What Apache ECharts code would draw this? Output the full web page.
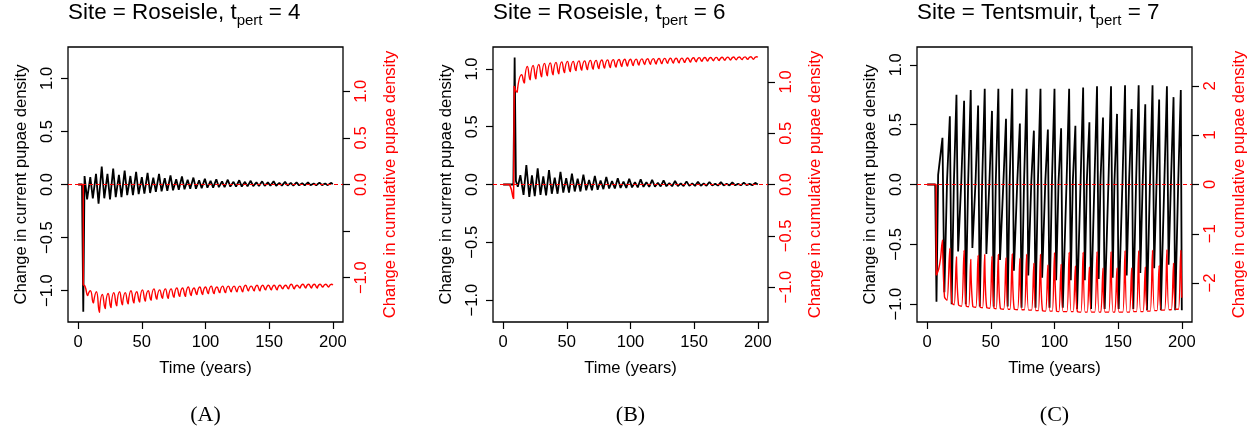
<!DOCTYPE html>
<html>
<head>
<meta charset="utf-8">
<script src="https://cdn.jsdelivr.net/npm/echarts@6/dist/echarts.min.js"></script>
<style>
  html, body { margin: 0; padding: 0; background: #fff; }
  #chart { width: 1252px; height: 432px; }
</style>
</head>
<body>
<div id="chart"></div>
<script>
// ---- Panel titles and tick values ----
const panelSites = ['Roseisle', 'Roseisle', 'Tentsmuir'];
const panelTpert = [4, 6, 7];
const panelTags = ['(A)', '(B)', '(C)'];
const xTicks = [0, 50, 100, 150, 200];
const currentTicks = [-1, -0.5, 0, 0.5, 1];
const cumTicksAB = [-1, -0.5, 0, 0.5, 1];
const cumTicksC = [-2, -1, 0, 1, 2];

// ---- (A) Roseisle, t_pert = 4 : [time, change] ----
const roseisle4Current = [
  [0,0],[3,0],[4,-1.2],[5,0.08],[7,-0.14],[9.5,0.07],[11.5,-0.13],[14,0.10],[16,-0.18],[18.5,0.17],
  [20.5,-0.13],[23,0.10],[25,-0.14],[27.5,0.15],[29.5,-0.12],[32,0.09],[34,-0.12],[36.5,0.13],[38.5,-0.10],[41,0.08],
  [43,-0.10],[45.5,0.12],[47.5,-0.09],[50,0.07],[52,-0.085],[54.5,0.11],[56.5,-0.08],[59,0.065],[61,-0.07],[63.5,0.10],
  [65.5,-0.065],[68,0.06],[70,-0.06],[72.5,0.085],[74.5,-0.055],[77,0.05],[79,-0.05],[81.5,0.075],[83.5,-0.045],[86,0.045],
  [88,-0.04],[90.5,0.065],[92.5,-0.04],[95,0.04],[97,-0.035],[99.5,0.055],[101.5,-0.03],[104,0.035],[106,-0.03],[108.5,0.05],
  [110.5,-0.025],[113,0.03],[115,-0.025],[117.5,0.045],[119.5,-0.02],[122,0.025],[124,-0.02],[126.5,0.04],[128.5,-0.02],[131,0.025],
  [133,-0.018],[135.5,0.035],[137.5,-0.015],[140,0.02],[142,-0.015],[144.5,0.03],[146.5,-0.013],[149,0.02],[151,-0.012],[153.5,0.03],
  [155.5,-0.012],[158,0.015],[160,-0.01],[162.5,0.025],[164.5,-0.01],[167,0.015],[169,-0.01],[171.5,0.02],[173.5,-0.008],[176,0.012],
  [178,-0.008],[180.5,0.02],[182.5,-0.007],[185,0.01],[187,-0.007],[189.5,0.018],[191.5,-0.006],[194,0.01],[196,-0.006],[198.5,0.015],[200,0.005]
];
const roseisle4CumStep = [[0,0],[4,0],[4,-1.08]];
const roseisle4Cum = [
  [4,-1.08],[5.3,-1.09],[7.5,-1.19],[9.5,-1.14],[12,-1.27],[14.3,-1.15],[16.7,-1.37],[19,-1.18],[21.3,-1.33],[23.5,-1.17],
  [25.8,-1.32],[28,-1.16],[30.3,-1.30],[32.5,-1.15],[34.8,-1.29],[37,-1.16],[39.3,-1.28],[41.5,-1.14],[43.8,-1.27],[46,-1.15],
  [48.3,-1.26],[50.5,-1.13],[52.8,-1.25],[55,-1.14],[57.3,-1.24],[59.5,-1.12],[61.8,-1.23],[64,-1.13],[66.3,-1.22],[68.5,-1.12],
  [70.8,-1.22],[73,-1.12],[75.3,-1.21],[77.5,-1.11],[79.8,-1.20],[82,-1.11],[84.3,-1.20],[86.5,-1.10],[88.8,-1.19],[91,-1.11],
  [93.3,-1.18],[95.5,-1.10],[97.8,-1.18],[100,-1.10],[102.3,-1.17],[104.5,-1.09],[106.8,-1.17],[109,-1.10],[111.3,-1.16],[113.5,-1.09],
  [115.8,-1.16],[118,-1.09],[120.3,-1.15],[122.5,-1.09],[124.8,-1.15],[127,-1.09],[129.3,-1.15],[131.5,-1.08],[133.8,-1.14],[136,-1.09],
  [138.3,-1.14],[140.5,-1.08],[142.8,-1.14],[145,-1.08],[147.3,-1.13],[149.5,-1.08],[151.8,-1.13],[154,-1.08],[156.3,-1.13],[158.5,-1.08],
  [160.8,-1.12],[163,-1.08],[165.3,-1.12],[167.5,-1.07],[169.8,-1.12],[172,-1.08],[174.3,-1.11],[176.5,-1.07],[178.8,-1.11],[181,-1.07],
  [183.3,-1.11],[185.5,-1.07],[187.8,-1.11],[190,-1.07],[192.3,-1.10],[194.5,-1.07],[196.8,-1.10],[199,-1.07],[200,-1.08]
];

// ---- (B) Roseisle, t_pert = 6 ----
const roseisle6Current = [
  [0,0],[8,0],[9,1.1],[10,0.03],[11.5,-0.02],[13.5,0.08],[16,-0.09],[18.2,0.167],[20.5,-0.107],[22.6,0.08],
  [24.8,-0.10],[27.1,0.139],[29.3,-0.09],[31.5,0.07],[33.7,-0.095],[36,0.124],[38.2,-0.08],[40.5,0.06],[42.7,-0.08],[45,0.11],
  [47.2,-0.07],[49.5,0.055],[51.7,-0.07],[54,0.095],[56.2,-0.06],[58.5,0.05],[60.7,-0.06],[63,0.085],[65.2,-0.05],[67.5,0.04],
  [69.7,-0.05],[72,0.075],[74.2,-0.045],[76.5,0.035],[78.7,-0.04],[81,0.065],[83.2,-0.035],[85.5,0.03],[87.7,-0.035],[90,0.055],
  [92.2,-0.03],[94.5,0.025],[96.7,-0.03],[99,0.05],[101.2,-0.025],[103.5,0.02],[105.7,-0.025],[108,0.045],[110.2,-0.02],[112.5,0.02],
  [114.7,-0.02],[117,0.04],[119.2,-0.018],[121.5,0.015],[123.7,-0.017],[126,0.035],[128.2,-0.015],[130.5,0.012],[132.7,-0.015],[135,0.03],
  [137.2,-0.013],[139.5,0.01],[141.7,-0.013],[144,0.027],[146.2,-0.012],[148.5,0.01],[150.7,-0.012],[153,0.024],[155.2,-0.01],[157.5,0.008],
  [159.7,-0.01],[162,0.022],[164.2,-0.009],[166.5,0.007],[168.7,-0.009],[171,0.02],[173.2,-0.008],[175.5,0.006],[177.7,-0.008],[180,0.018],
  [182.2,-0.007],[184.5,0.005],[186.7,-0.007],[189,0.016],[191.2,-0.006],[193.5,0.005],[195.7,-0.006],[198,0.014],[200,0]
];
const roseisle6CumStep = [[0,0],[5,0],[6.5,-0.05],[7.6,-0.12],[8.2,-0.14],[8.7,0.96]];
const roseisle6Cum = [
  [8.7,0.96],[11,0.90],[14.5,1.07],[16.7,0.99],[19,1.15],[21.2,1.02],[23.5,1.16],[25.7,1.03],[28,1.17],[30.2,1.05],
  [32.5,1.18],[34.7,1.06],[37,1.185],[39.2,1.07],[41.5,1.19],[43.7,1.08],[46,1.195],[48.2,1.09],[50.5,1.2],[52.7,1.10],
  [55,1.2],[57.2,1.11],[59.5,1.205],[61.7,1.115],[64,1.205],[66.2,1.12],[68.5,1.21],[70.7,1.125],[73,1.21],[75.2,1.13],
  [77.5,1.213],[79.7,1.135],[82,1.215],[84.2,1.14],[86.5,1.217],[88.7,1.145],[91,1.218],[93.2,1.15],[95.5,1.22],[97.7,1.155],
  [100,1.22],[102.2,1.16],[104.5,1.222],[106.7,1.165],[109,1.224],[111.2,1.17],[113.5,1.226],[115.7,1.172],[118,1.227],[120.2,1.175],
  [122.5,1.228],[124.7,1.178],[127,1.229],[129.2,1.18],[131.5,1.23],[133.7,1.183],[136,1.231],[138.2,1.186],[140.5,1.232],[142.7,1.19],
  [145,1.233],[147.2,1.193],[149.5,1.235],[151.7,1.196],[154,1.236],[156.2,1.2],[158.5,1.237],[160.7,1.203],[163,1.238],[165.2,1.206],
  [167.5,1.239],[169.7,1.208],[172,1.24],[174.2,1.21],[176.5,1.241],[178.7,1.213],[181,1.242],[183.2,1.215],[185.5,1.243],[187.7,1.217],
  [190,1.244],[192.2,1.219],[194.5,1.245],[196.7,1.22],[199,1.245],[200,1.24]
];

// ---- (C) Tentsmuir, t_pert = 7 ----
const tentsmuir7Current = [
  [0,0],[6.3,0],[7.3,-0.98],[8.6,0.08],[9.9,0.09],[12,0.39],[13.5,-0.9],[15.6,0.03],[17.8,0.57],[19.2,-1.0],
  [21,0.03],[23,0.75],[24.3,-0.56],[26.8,0.03],[29,0.70],[30.3,-1.0],[32.2,0.03],[34.2,0.79],[35.5,-0.53],[38,0.03],
  [40,0.66],[41.3,-1.02],[43.2,0.03],[45.2,0.80],[46.5,-0.58],[48.9,0.03],[50.9,0.615],[52.2,-1.02],[53.9,0.03],[55.9,0.80],
  [57.2,-0.63],[59.9,0.03],[61.9,0.55],[63.2,-1.02],[64.8,0.03],[66.8,0.80],[68.1,-0.72],[70.8,0.03],[72.8,0.51],[74.1,-1.03],
  [76.1,0.03],[78.1,0.80],[79.4,-0.76],[81.8,0.03],[83.8,0.45],[85.1,-1.03],[87,0.03],[89,0.80],[90.3,-0.78],[92.8,0.03],
  [94.8,0.46],[96.1,-1.03],[98,0.03],[100,0.80],[101.3,-0.8],[103.2,0.03],[105.2,0.47],[106.5,-1.03],[109.5,0.03],[111.5,0.80],
  [112.8,-0.8],[114.4,0.03],[116.4,0.49],[117.7,-1.04],[120.5,0.03],[122.5,0.81],[123.8,-0.8],[125.4,0.03],[127.4,0.52],[128.7,-1.04],
  [131.4,0.03],[133.4,0.82],[134.7,-0.79],[136.1,0.03],[138.1,0.56],[139.4,-1.04],[142.4,0.03],[144.4,0.82],[145.7,-0.78],[147.1,0.03],
  [149.1,0.59],[150.4,-1.04],[153.4,0.03],[155.4,0.83],[156.7,-0.76],[158.6,0.03],[160.6,0.63],[161.9,-1.04],[164.1,0.03],[166.1,0.83],
  [167.4,-0.74],[169.3,0.03],[171.3,0.67],[172.6,-1.05],[175,0.03],[177,0.83],[178.3,-0.70],[180.2,0.03],[182.2,0.71],[183.5,-1.05],
  [186.3,0.03],[188.3,0.82],[189.6,-0.67],[191.5,0.03],[193.5,0.73],[194.8,-1.05],[197.2,0.03],[199.2,0.79],[200,-1.05]
];
const tentsmuir7CumStep = [[0,0],[7,0],[7.2,-1.84]];
const tentsmuir7Cum = [
  [7.2,-1.84],[9,-1.72],[10.5,-1.5],[12,-1.13],
  [13.6,-2.28],[15.6,-2.35],[17.8,-1.30],[19.4,-2.40],[21.2,-2.44],[23,-1.47],
  [24.6,-2.44],[27,-2.47],[29,-1.34],[30.6,-2.46],[32.6,-2.48],[34.2,-1.52],
  [35.8,-2.47],[38.2,-2.49],[40,-1.44],[41.6,-2.49],[43.5,-2.5],[45.2,-1.42],
  [46.8,-2.5],[49.2,-2.51],[50.9,-1.46],[52.5,-2.51],[54.2,-2.52],[55.9,-1.42],
  [57.5,-2.52],[60.1,-2.53],[61.9,-1.49],[63.5,-2.53],[65.1,-2.53],[66.8,-1.41],
  [68.4,-2.53],[71,-2.54],[72.8,-1.50],[74.4,-2.54],[76.4,-2.54],[78.1,-1.42],
  [79.7,-2.55],[82,-2.55],[83.8,-1.60],[85.4,-2.56],[87.3,-2.56],[89,-1.42],
  [90.6,-2.56],[93,-2.57],[94.8,-1.64],[96.4,-2.57],[98.3,-2.57],[100,-1.39],
  [101.6,-2.57],[103.4,-2.58],[105.2,-1.62],[106.8,-2.58],[109.7,-2.58],[111.5,-1.38],
  [113.1,-2.58],[114.7,-2.58],[116.4,-1.66],[118,-2.58],[120.7,-2.59],[122.5,-1.38],
  [124.1,-2.59],[125.7,-2.59],[127.4,-1.68],[129,-2.59],[131.6,-2.59],[133.4,-1.37],
  [135,-2.59],[136.4,-2.59],[138.1,-1.70],[139.7,-2.59],[142.6,-2.59],[144.4,-1.37],
  [146,-2.59],[147.4,-2.59],[149.1,-1.70],[150.7,-2.59],[153.6,-2.59],[155.4,-1.35],
  [157,-2.59],[158.9,-2.59],[160.6,-1.70],[162.2,-2.58],[164.4,-2.58],[166.1,-1.35],
  [167.7,-2.58],[169.6,-2.58],[171.3,-1.68],[172.9,-2.57],[175.2,-2.57],[177,-1.34],
  [178.6,-2.56],[180.5,-2.56],[182.2,-1.65],[183.8,-2.55],[186.5,-2.55],[188.3,-1.33],
  [189.9,-2.54],[191.8,-2.54],[193.5,-1.60],[195.1,-2.53],[197.4,-2.53],[199.2,-1.34],[200,-2.3]
];

// ---- layout ----
const FONT = '"Liberation Sans", Arial, Helvetica, sans-serif';
const RED = '#ff0000';
const boxLeft = [68, 493, 917];
const boxTop = 47, boxSize = 275;
const xRange = [-8, 208];
const currentRange = [1.296, 1.19, 1.149];
const cumRange = [1.475, 1.34, 2.79];
const currentData = [roseisle4Current, roseisle6Current, tentsmuir7Current];
const cumStepData = [roseisle4CumStep, roseisle6CumStep, tentsmuir7CumStep];
const cumData = [roseisle4Cum, roseisle6Cum, tentsmuir7Cum];
const cumTicks = [cumTicksAB, cumTicksAB, cumTicksC];

const fmtDec = v => (v < 0 ? '\u2212' : '') + Math.abs(v).toFixed(1);
const fmtInt = v => (v < 0 ? '\u2212' : '') + Math.abs(v).toFixed(0);

// The smoothed cumulative curves have sharp turning points (troughs for A/B,
// crests for C). Each such vertex gets a twin a hair later so that the spline
// meets it along the straight chords instead of rounding it off.
function withSharpTurns(points, atMinima) {
  const out = [];
  points.forEach((pt, i) => {
    out.push(pt);
    const prev = points[i - 1], next = points[i + 1];
    if (!prev || !next) return;
    const isTurn = atMinima ? (pt[1] < prev[1] && pt[1] < next[1]) : (pt[1] > prev[1] && pt[1] > next[1]);
    if (isTurn) out.push([pt[0] + 0.01, pt[1]]);
  });
  return out;
}

const grids = [], xAxes = [], yAxes = [], series = [], titles = [], graphics = [];

for (let p = 0; p < 3; p++) {
  grids.push({
    left: boxLeft[p], top: boxTop, width: boxSize, height: boxSize,
    show: true, borderColor: '#000', borderWidth: 1.3, backgroundColor: 'transparent'
  });
  xAxes.push({
    type: 'value', gridIndex: p, min: xRange[0], max: xRange[1],
    name: 'Time (years)', nameLocation: 'middle', nameGap: 38,
    nameTextStyle: { fontFamily: FONT, fontSize: 16.6, color: '#000' },
    axisLine: { show: false, onZero: false },
    axisTick: { show: true, inside: false, length: 7, customValues: xTicks, lineStyle: { color: '#000', width: 1.2 } },
    axisLabel: { customValues: xTicks, margin: 12, fontFamily: FONT, fontSize: 16.6, color: '#000' },
    splitLine: { show: false }
  });
  yAxes.push({
    type: 'value', gridIndex: p, position: 'left',
    min: -currentRange[p], max: currentRange[p],
    name: 'Change in current pupae density', nameLocation: 'middle', nameGap: 38, nameRotate: 90,
    nameTextStyle: { fontFamily: FONT, fontSize: 16.6, color: '#000' },
    axisLine: { show: false, onZero: false },
    axisTick: { show: true, length: 7, customValues: currentTicks, lineStyle: { color: '#000', width: 1.2 } },
    axisLabel: { customValues: currentTicks, rotate: 90, margin: 12, fontFamily: FONT, fontSize: 16.6, color: '#000', formatter: fmtDec },
    splitLine: { show: false }
  });
  yAxes.push({
    type: 'value', gridIndex: p, position: 'right',
    min: -cumRange[p], max: cumRange[p],
    name: 'Change in cumulative pupae density', nameLocation: 'middle', nameGap: 39, nameRotate: 90,
    nameTextStyle: { fontFamily: FONT, fontSize: 16.6, color: RED },
    axisLine: { show: false, onZero: false },
    axisTick: { show: true, length: 7, customValues: cumTicks[p], lineStyle: { color: '#000', width: 1.2 } },
    axisLabel: {
      customValues: cumTicks[p], rotate: 90, margin: 10, fontFamily: FONT, fontSize: 16.6, color: RED,
      // the -0.5 label on panel A's right axis is dropped for lack of room
      formatter: p === 2 ? fmtInt : (v => (p === 0 && v === -0.5) ? '' : fmtDec(v))
    },
    splitLine: { show: false }
  });

  series.push({
    type: 'line', xAxisIndex: p, yAxisIndex: 2 * p, data: currentData[p],
    showSymbol: false, symbol: 'none', lineStyle: { color: '#000', width: 1.8 }, z: 2
  });
  series.push({
    type: 'line', xAxisIndex: p, yAxisIndex: 2 * p + 1, data: cumStepData[p],
    showSymbol: false, symbol: 'none', lineStyle: { color: RED, width: 1.5 }, z: 3
  });
  series.push({
    type: 'line', xAxisIndex: p, yAxisIndex: 2 * p + 1,
    data: withSharpTurns(cumData[p], p !== 2),
    smooth: p === 2 ? 0.3 : 0.55, showSymbol: false, symbol: 'none',
    lineStyle: { color: RED, width: 1.4 }, z: 3,
    markLine: {
      silent: true, symbol: 'none', label: { show: false },
      lineStyle: { color: RED, type: [4, 3], width: 1.1 },
      data: [{ yAxis: 0 }], z: 5
    }
  });

  titles.push({
    left: boxLeft[p], top: 2, padding: 0,
    text: '{m|Site = ' + panelSites[p] + ', t}{s|pert}{m| = ' + panelTpert[p] + '}',
    textStyle: {
      fontWeight: 'normal',
      rich: {
        m: { fontFamily: FONT, fontSize: 22.4, fontWeight: 'normal', color: '#000', lineHeight: 26, verticalAlign: 'top' },
        s: { fontFamily: FONT, fontSize: 15, fontWeight: 'normal', color: '#000', lineHeight: 17, padding: [11, 0, 0, 0], verticalAlign: 'bottom' }
      }
    }
  });
  graphics.push({
    type: 'text', x: boxLeft[p] + boxSize / 2, y: 415,
    style: { text: panelTags[p], font: '22px "Liberation Serif", "Times New Roman", serif', fill: '#000', textAlign: 'center', textVerticalAlign: 'middle' }
  });
}

const chart = echarts.init(document.getElementById('chart'), null, { renderer: 'canvas' });
chart.setOption({
  animation: false,
  backgroundColor: '#fff',
  title: titles,
  grid: grids,
  xAxis: xAxes,
  yAxis: yAxes,
  series: series,
  graphic: graphics
});
</script>
</body>
</html>
